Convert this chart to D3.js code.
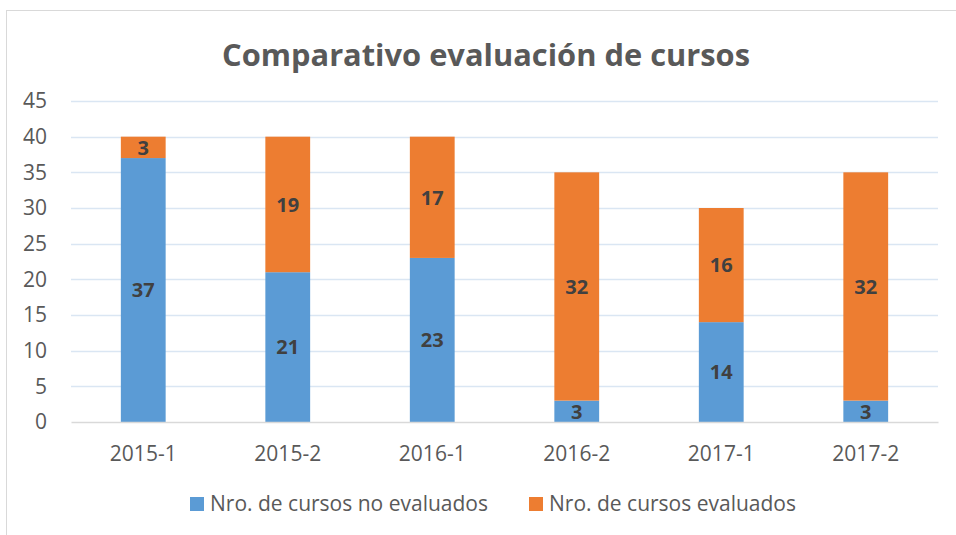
<!DOCTYPE html>
<html>
<head>
<meta charset="utf-8">
<script src="https://cdn.jsdelivr.net/npm/d3@7"></script>
<style>
  body { margin: 0; background: #fff; }
  text { font-family: "Open Sans", "Noto Sans", sans-serif; }
</style>
</head>
<body>
<div id="chart"></div>
<script>
const periods = ['2015-1', '2015-2', '2016-1', '2016-2', '2017-1', '2017-2']
const noEvaluados = [37, 21, 23, 3, 14, 3]
const evaluados = [3, 19, 17, 32, 16, 32]
const seriesNames = ['Nro. de cursos no evaluados', 'Nro. de cursos evaluados']
const seriesColors = ['#5B9BD5', '#ED7D31']
const yTicks = [0, 5, 10, 15, 20, 25, 30, 35, 40, 45]

const width = 956
const height = 535
const margin = {top: 101, right: 18, bottom: 113, left: 71}
const chartWidth = width - margin.left - margin.right
const chartHeight = height - margin.top - margin.bottom

const svg = d3.select('#chart').append('svg')
  .attr('width', width)
  .attr('height', height)

// outer frame
svg.append('rect')
  .attr('x', 6.5).attr('y', 10.5)
  .attr('width', width).attr('height', height)
  .attr('fill', 'none')
  .attr('stroke', '#D9D9D9')

svg.append('text')
  .attr('x', 486).attr('y', 66)
  .attr('text-anchor', 'middle')
  .attr('font-size', 31)
  .attr('font-weight', 'bold')
  .attr('fill', '#595959')
  .attr('textLength', 528)
  .attr('lengthAdjust', 'spacingAndGlyphs')
  .text('Comparativo evaluación de cursos')

const g = svg.append('g')
  .attr('transform', `translate(${margin.left}, ${margin.top})`)

const x = d3.scaleBand()
  .domain(periods)
  .range([0, chartWidth])
  .paddingInner(0.69)
  .paddingOuter(0.345)

const y = d3.scaleLinear()
  .domain([0, 45])
  .range([chartHeight, 0])

// gridlines
g.append('g')
  .selectAll('line')
  .data(yTicks.filter(d => d > 0))
  .join('line')
  .attr('x1', 0).attr('x2', chartWidth)
  .attr('y1', d => Math.round(y(d)) + 0.5)
  .attr('y2', d => Math.round(y(d)) + 0.5)
  .attr('stroke', '#DAE6F3')
  .attr('stroke-width', 1.5)

const rows = periods.map((p, i) => ({period: p, a: noEvaluados[i], b: evaluados[i]}))
const stack = d3.stack().keys(['a', 'b'])(rows)

const layer = g.selectAll('.layer')
  .data(stack)
  .join('g')
  .attr('class', 'layer')
  .attr('fill', (d, i) => seriesColors[i])

layer.selectAll('rect')
  .data(d => d)
  .join('rect')
  .attr('x', d => x(d.data.period))
  .attr('width', x.bandwidth())
  .attr('y', d => y(d[1]))
  .attr('height', d => y(d[0]) - y(d[1]))

layer.selectAll('.lbl')
  .data(d => d)
  .join('text')
  .attr('class', 'lbl')
  .attr('x', d => x(d.data.period) + x.bandwidth() / 2)
  .attr('y', d => (y(d[0]) + y(d[1])) / 2)
  .attr('dy', '0.36em')
  .attr('text-anchor', 'middle')
  .attr('font-size', 20)
  .attr('font-weight', 'bold')
  .attr('fill', '#404040')
  .text(d => d[1] - d[0])

// x axis
const xAxis = g.append('g')
  .attr('transform', `translate(0, ${chartHeight})`)
  .call(d3.axisBottom(x).tickSize(0))
xAxis.select('.domain').attr('stroke', '#D9D9D9').attr('stroke-width', 1.5)
xAxis.selectAll('text')
  .attr('y', 39).attr('dy', 0)
  .attr('font-size', 21).attr('fill', '#595959')

// y axis
const yAxis = g.append('g')
  .call(d3.axisLeft(y).tickValues(yTicks).tickSize(0).tickPadding(24))
yAxis.select('.domain').remove()
yAxis.selectAll('text').attr('font-size', 21).attr('fill', '#595959')

// legend
const legend = svg.append('g')
  .attr('transform', 'translate(190, 497)')
const legendX = [0, 339]
const item = legend.selectAll('g')
  .data(seriesNames)
  .join('g')
  .attr('transform', (d, i) => `translate(${legendX[i]}, 0)`)
item.append('rect')
  .attr('width', 14).attr('height', 14)
  .attr('fill', (d, i) => seriesColors[i])
item.append('text')
  .attr('x', 20).attr('y', 14)
  .attr('font-size', 21)
  .attr('fill', '#595959')
  .text(d => d)
</script>
</body>
</html>
